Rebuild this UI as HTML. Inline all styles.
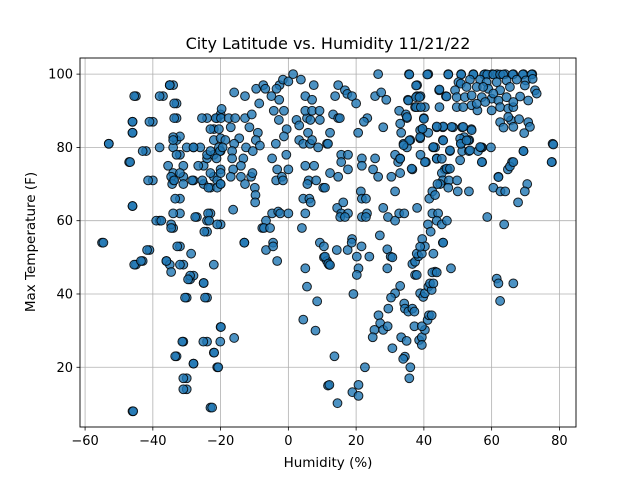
<!DOCTYPE html>
<html><head><meta charset="utf-8"><style>
body{margin:0;background:#fff;}
svg{display:block;font-family:"DejaVu Sans","Liberation Sans",sans-serif;}
</style></head><body>
<svg id="chart" width="640" height="480" viewBox="0 0 640 480">
<rect width="640" height="480" fill="#fff"/>
<text x="328" y="49" text-anchor="middle" font-size="16">City Latitude vs. Humidity 11/21/22</text>
<g id="grid"></g>
<g id="points"></g>
<g id="axes"></g>
<text x="328" y="467" text-anchor="middle" font-size="13.5">Humidity (%)</text>
<text transform="translate(35,242) rotate(-90)" text-anchor="middle" font-size="13.5">Max Temperature (F)</text>
</svg>
<script>
const xTicks=[-60,-40,-20,0,20,40,60,80];
const yTicks=[20,40,60,80,100];
const xVals=[-55,-53,-47,-46,-46,-46,-45,-45,-46,-43,-42,-41,-40,-40,-38,-37,-36,-35,-35,-34,-34,-34,-34,-33,-33,-33,-32,-32,-32,-32,-32,-31,-31,-31,-33,-31,-30,-30,-31,-30,-29,-28,-28,-28,-27,-26,-25,-25,-24,-24,-24,-25,-24,-24,-23,-23,-22,-22,-22,-22,-22,-21,-21,-20,-20,-20,-20,-20,-22,-20,-21,-24,-23,-28,-39,
-54.6,-41.7,-45.5,-43.5,-32.8,-28.7,-36,-34.6,-32,-29,-29.6,-25,-30.5,-24.6,-19.9,-31.3,-25.1,-20.1,-16,-21.9,-33.4,-28,-20.7,-31,-31,-45.8,-22.5,5,5.5,8.5,4.4,8,11.7,
-45.5,-38,-35,-35,-33.7,-46,-41,-46,-33.7,-53,-43,-38,-34,-34,-34,-33,-30,-28,-46.7,-35.5,-41.4,-34.6,-34.3,-33.7,-32,-46,-33.4,-34,-37.5,-34.6,-34.6,
-25.5,-21.4,-19.9,-17.6,-15.7,-19.7,-16,-12.8,-9.5,-7.4,-6.8,-5,-2.6,-3.5,-1.6,0,1.4,3.7,-8.6,-2.7,-4.3,-2.8,-1.3,-0.5,-1.3,2.4,3.2,5.5,5,7.5,7,5,7,6.5,9.3,9.2,
-23,-20.5,-20,-18.6,-17,-14.5,-11.5,-12.8,-10.8,-9,-9.6,-8.4,-16,-12.5,-10.5,-24,-23,-20.5,-20.2,-21.2,-19.4,-16.6,-16.6,-13.3,-14,-16.3,-26.6,-23,-20,-17,-28.4,-25.4,-23.6,-21,-20,-14,-12.8,-11,-10.6,-9.9,-9.7,-9.8,
-4.8,-3.3,-3.6,-1.9,-1.6,0,-0.6,-3.7,3.2,4.4,6.4,5.8,7,8.8,11.4,5,7.6,6,5.6,8.2,10.3,4.4,6.2,6.6,5,4,-4.8,-3,-2.4,0,-6.6,-7.7,-7.2,-5.4,-16.3,-23.7,-23.4,-21,-27.5,-24.8,-13,-4.5,9.3,
-13,-6.6,-4.5,-3.3,10.5,10.5,11.4,12,
26.5,35.6,41.3,47.2,51,54.6,58.1,60.2,61.6,64,66.4,69.4,72,14.7,16.7,17.4,18.8,20,13.8,25.6,27.4,28.9,35.3,38,38,39,37.4,38.3,44.5,46.5,40.3,13.2,14.7,15.2,23.3,22.3,20.6,28,32.7,34.7,35,40,33.3,36,34,35,39.5,38.9,41.3,43.8,45.6,48.6,51.3,54,53.4,51,51.9,45.6,43.3,42.7,47.7,51.3,53.3,56,57.2,59.8,11.7,12.3,15.6,17.6,21.7,25.6,31.5,32.4,33,39,40.6,15.6,17.6,12.3,14.7,21.7,25,26.5,30.4,33,36.6,
43.8,46.2,47,45.3,45.6,44.8,47.4,49.8,47.2,50,53.3,57.2,56.9,62,60.5,62.6,64,64.8,66,69.4,70.5,69.8,67.8,78,77.8,10.8,21.4,21.7,22.9,31.5,28,14.4,16.2,15.6,17.6,15.3,16.7,21.7,23.2,22.9,29.4,31.5,32.7,34.2,38,41.6,42.5,44,43.3,42.5,44.2,43.8,45.3,46.8,41.2,42,39.5,45.6,27,18.8,58.7,63.7,
10.8,11.8,12.3,14.3,17.5,18.7,21.6,20.2,23.9,20.7,20.2,29.2,30.2,30.7,29.2,19.2,33,31.5,30.3,29.5,26.6,27.1,25.4,24.9,28,29.3,34.2,34.4,35.4,36.6,37.2,33.3,34.9,30.7,34.4,33.9,36,35.7,37.2,38.9,39.8,40.3,38.6,39.4,39.4,40.3,39.4,41.1,41.5,42.3,41.3,42.3,41.8,42.8,43.3,42.5,43.8,48,37.4,37.9,36.6,37.4,38.4,37.9,39.4,40.3,38.9,42.8,45.7,61.5,62,66.4,62.5,13.6,22.6,12.1,20.7,18.9,20.7,14.5,
35.7,41,47.2,51,54.6,57.8,58.7,60.5,62.5,63.4,66.2,69.2,71.8,
50.2,50.9,53.6,56.6,58.5,61.5,64.4,67.4,70.1,72.1,49.2,52.6,55.6,59,62.5,65.4,69.8,72.8,73.3,49.7,52.1,54.1,57.1,60,62,64.4,68.4,70.8,49.7,51.6,54.1,55.8,60,62.5,64.9,66.4,65.7,64.9,62.5,63.5,66.4,68.1,70.8,71.3,69.6,55.6,58.1,60.5,66.4,57.5,54.1,53.1,50.7,48.2,45.7,43.8,51.6,
37.7,35.4,37.7,38.7,37.7,39.1,44.6,46.7,44.6,35,40,33,38.9,39.6,35.7,34,38.9,42.8,45.7,47.7,50.9,52.6,53.6,56.6,57.1,50.7,46.7,47.7,43.8,45.3,40.3,36.4,33,78.2,77.7,69.4,65.4,66.4,62];
const yVals=[54,81,76,87,84,64,94,48,8,49,79,52,87,71,60,94,49,48,97,97,58,71,73,92,88,82,78,83,66,62,53,75,72,70,23,27,17,14,48,39,44,80,71,45,61,80,75,70,88,77,57,43,39,60,62,69,85,82,78,72,48,71,88,89,79,74,70,59,24,31,20,27,9,21,60,
54,52,48,49,53,51,49,46,48,45,44,43,39,39,31,27,27,27,28,24,23,21,20,17,14,8,9,47,42,38,33,30,15,
94,94,97,97,92,87,87,84,88,81,79,80,80,82.8,82,78,80,80,76,75,71,72,70,71,73,64,66,62,60,59,58,
88,88,88,88,88,90.5,95,94,96,97,96,94,97,96,98.5,98,100,98.5,92,93,90,87.5,90,85,83,87.5,86,88,94,97,93,90,90,87.5,87.5,90,
85,85,82.5,82,85.5,82.5,85.5,88,89,84,82,80.5,81,80,79,78,79,80,79,77,80,79,77,77,75,74,75,73,73,72,71,71,69,69,70,72,70,72,73,69,67,65,
77,74,71,72,71,74,78,81,82,81,81,84,82,80,81,75,75,71,70,71,69,66,66,65,62,58,62,62.5,62,62,60,58,58,58,63,62,60,59,61,57,54,54,54,
54,52,53,49,53,50,49,48,
100,100,100,100,100,100,100,100,100,100,100,100,100,97,95.6,94.6,94,92,94,94,95,93,93,97,94,94,91,91,95.6,94,91,89,88,88,88,87,84,85.5,90,89,88,88,84,82,81,80,85,82.5,84,85.5,85.5,85.5,85.5,85,82,81,82.8,82,80,80,79,79,79,79,80,80,81,84,78,78,77,77,78,76,77,78,76,76,74,73,72,75,74,72,72,73,74,
77,74,74,73,71,70,71,71,69,68,68,76,80,72,69,68,68,74,76,79,70,68,65,81,76,69,68,66,66,68,63.5,63.5,65,62,62,61,61,61,62,61,61,60,62,62,63.5,66,68,70,67,62,62,60,59,60,59,57,55,54,56,55,61,59,
50.2,48.3,47.9,52,52,54,53,50.2,50.2,47,45.2,52.2,50.2,50,47,40,42.2,40.2,39,36,34.2,32,30.2,28.2,30.2,31.2,37.4,36,35.2,36,35.2,28.2,27.2,25.2,22.9,22.3,20,17,31.2,40.2,39.2,40.2,27.4,28.2,26.1,30.2,31.2,32.9,34.2,34.2,42,41.1,42.9,42.9,46.1,45.9,45.9,47,45.2,45.2,48.2,48.8,50.3,51,51,53,52.9,51,54,44.2,42.9,42.9,38.1,23,20,15.2,15.2,13.2,12.2,10.2,
99.9,99.9,99.9,99.9,99.9,99.9,99.9,99.9,99.9,99.9,99.9,99.9,99.9,
97.8,97.4,98.5,98.5,97.8,97.8,98.3,98.5,98.3,98.7,95.6,96.5,96.5,96,95.6,96.5,96.9,95.6,94.7,93.7,93.7,94.2,93.7,93.3,92.8,93.7,93.9,92.8,91,91,91.5,90.1,90.1,91,90.6,91,87.4,88.3,86.9,85.4,85.6,87.7,86.9,85.6,83.9,91.9,92.4,94.7,92.4,96.5,84.7,81.9,82.4,85.6,85.7,85.7,85.6,
96.9,92.8,93.7,93.7,91,91,95.8,93.9,91,88.3,87.8,86.5,84.7,85.1,81.9,80.6,82.8,80.1,81.9,79.2,81,81.9,79.2,80.1,76,76.5,74.2,74.2,76.9,76.9,76,74.2,76.9,80.8,76,79,74.8,76,71.9];

const L=80,R=576,T=58,B=427;
const xMin=-61.5,xMax=84.9,yMin=3.7,yMax=104.4;
const sx=v=>L+(v-xMin)/(xMax-xMin)*(R-L);
const sy=v=>B-(v-yMin)/(yMax-yMin)*(B-T);
const NS='http://www.w3.org/2000/svg';
const grid=document.getElementById('grid'),pts=document.getElementById('points'),axes=document.getElementById('axes');
function mk(tag,attrs,parent){const e=document.createElementNS(NS,tag);for(const k in attrs)e.setAttribute(k,attrs[k]);parent.appendChild(e);return e;}
const n=Math.min(xVals.length,yVals.length);
for(let i=0;i<n;i++){
  const c=mk('circle',{cx:sx(xVals[i]),cy:sy(yVals[i]),r:4.4,fill:'rgba(31,119,180,0.8)',stroke:'rgba(0,0,0,0.85)','stroke-width':1},pts);
  
  
}
xTicks.forEach(t=>{
  const x=sx(t);
  const g=mk('line',{x1:x,x2:x,y1:T,y2:B,stroke:'#b0b0b0','stroke-width':0.8},grid);
  
  
  const tk=mk('line',{x1:x,x2:x,y1:B,y2:B+3.5,stroke:'#000','stroke-width':0.8},axes);
  
  
  const lb=mk('text',{x:x,y:B+18,'text-anchor':'middle','font-size':13},axes);
  lb.textContent=String(t).replace('-','\u2212');
  
  
});
yTicks.forEach(t=>{
  const y=sy(t);
  const g=mk('line',{x1:L,x2:R,y1:y,y2:y,stroke:'#b0b0b0','stroke-width':0.8},grid);
  
  
  const tk=mk('line',{x1:L-3.5,x2:L,y1:y,y2:y,stroke:'#000','stroke-width':0.8},axes);
  
  
  const lb=mk('text',{x:L-7,y:y+4.5,'text-anchor':'end','font-size':13},axes);
  lb.textContent=String(t);
  
  
});
const fr=mk('rect',{x:L,y:T,width:R-L,height:B-T,fill:'none',stroke:'#000','stroke-width':0.9},axes);


</script>
</body></html>
